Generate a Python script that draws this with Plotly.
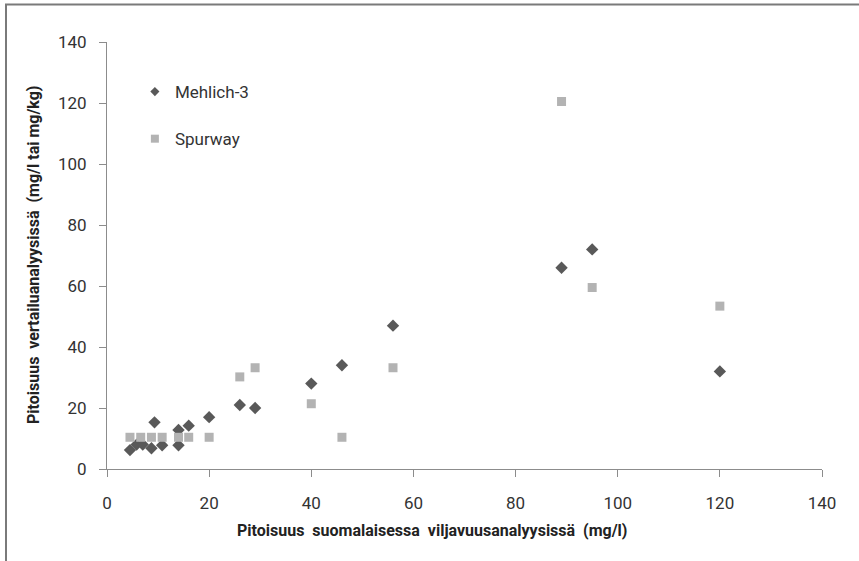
import plotly.graph_objects as go

# Data
mehlich_x = [4.5, 5.8, 7.0, 8.7, 9.3, 10.8, 14.0, 14.0, 16.0, 20.0, 26.0, 29.0, 40.0, 46.0, 56.0, 89.0, 95.0, 120.0]
mehlich_y = [6.2, 8.0, 8.0, 6.8, 15.3, 7.8, 12.8, 7.8, 14.2, 17.0, 21.0, 20.0, 28.0, 34.0, 47.0, 66.0, 72.0, 32.0]

spurway_x = [4.5, 6.6, 8.7, 10.8, 14.0, 16.0, 20.0, 26.0, 29.0, 40.0, 46.0, 56.0, 89.0, 95.0, 120.0]
spurway_y = [10.4, 10.4, 10.4, 10.4, 10.4, 10.4, 10.4, 30.2, 33.2, 21.4, 10.4, 33.2, 120.5, 59.5, 53.4]

series_names = ["Mehlich-3", "Spurway"]

x_ticks = [0, 20, 40, 60, 80, 100, 120, 140]
y_ticks = [0, 20, 40, 60, 80, 100, 120, 140]

x_title = "Pitoisuus&nbsp; suomalaisessa&nbsp; viljavuusanalyysissä&nbsp; (mg/l)"
y_title = "Pitoisuus&nbsp; vertailuanalyysissä&nbsp; (mg/l tai mg/kg)"

FONT = "Roboto, 'Liberation Sans', sans-serif"
DARK = "#595959"
LIGHT = "#b3b3b3"

fig = go.Figure()
# data traces
fig.add_trace(go.Scatter(
    x=mehlich_x, y=mehlich_y, mode="markers", name=series_names[0], showlegend=False,
    marker=dict(symbol="diamond", size=9.5, color=DARK),
))
fig.add_trace(go.Scatter(
    x=spurway_x, y=spurway_y, mode="markers", name=series_names[1], showlegend=False,
    marker=dict(symbol="square", size=9, color=LIGHT),
))
# legend entries (smaller symbols, as in the reference)
fig.add_trace(go.Scatter(
    x=[None], y=[None], mode="markers", name=series_names[0], legendgroup="m",
    marker=dict(symbol="diamond", size=7, color=DARK),
))
fig.add_trace(go.Scatter(
    x=[None], y=[None], mode="markers", name=series_names[1], legendgroup="s",
    marker=dict(symbol="square", size=8, color=LIGHT),
))

axis_common = dict(
    showgrid=False, zeroline=False, showline=True, linecolor="#8c8c8c", linewidth=1,
    ticks="outside", tickcolor="#8c8c8c", ticklen=7, tickwidth=1,
    tickfont=dict(family=FONT, size=17, color="#333333"),
)

fig.update_layout(
    width=859, height=561,
    paper_bgcolor="white", plot_bgcolor="white",
    margin=dict(l=107, r=37, t=42, b=92),
    font=dict(family=FONT, color="#333333"),
    showlegend=True,
    legend=dict(
        x=0.039, y=0.925, xanchor="left", yanchor="top",
        bgcolor="rgba(0,0,0,0)", tracegroupgap=22,
        font=dict(family=FONT, size=17, color="#333333"),
        itemwidth=30,
    ),
    xaxis=dict(range=[0, 140], tickvals=x_ticks, ticktext=[str(v) for v in x_ticks],
               ticklabelstandoff=12, **axis_common),
    yaxis=dict(range=[0, 140], tickvals=y_ticks, ticktext=[str(v) for v in y_ticks],
               ticklabelstandoff=9, **axis_common),
    annotations=[
        dict(text="<b>" + x_title + "</b>", xref="paper", yref="paper",
             x=(432 - 107) / 715, y=-(530 - 469) / 427, xanchor="center", yanchor="middle",
             showarrow=False, font=dict(family=FONT, size=16, color="#222222")),
        dict(text="<b>" + y_title + "</b>", xref="paper", yref="paper",
             x=(33 - 107) / 715, y=(469 - 255) / 427, xanchor="center", yanchor="middle",
             textangle=-90, showarrow=False, font=dict(family=FONT, size=16, color="#222222")),
    ],
    shapes=[dict(
        type="rect", xref="paper", yref="paper",
        x0=(6 - 107) / 715, x1=1.2, y0=-0.4, y1=(469 - 4.5) / 427,
        line=dict(color="#7a7a7a", width=2), fillcolor="rgba(0,0,0,0)", layer="below",
    )],
)

fig.write_html("out.html", config={"displayModeBar": False},
               post_script="document.body.style.margin='0';")
